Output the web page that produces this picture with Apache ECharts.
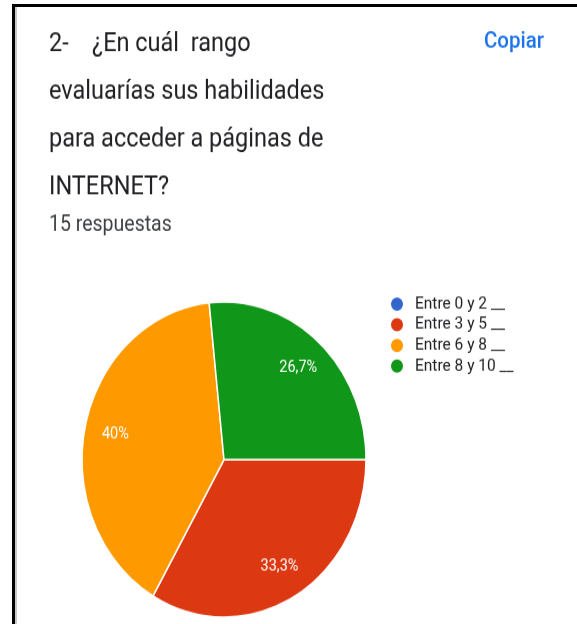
<!DOCTYPE html>
<html><head><meta charset="utf-8">
<script src="https://cdn.jsdelivr.net/npm/echarts@6/dist/echarts.min.js"></script>
<style>
html,body{margin:0;padding:0;background:#fff;overflow:hidden;width:577px;height:624px;}
#wrap{position:absolute;left:0;top:0;width:577px;height:562px;transform:scaleY(1.11);transform-origin:0 0;}
#chart{width:577px;height:562px;}
#frame{position:absolute;left:12px;top:4px;width:600px;height:700px;border-left:3px solid #000;border-top:3px solid #000;}
#shadow{position:absolute;left:15px;top:7px;width:2px;height:700px;background:#c8c8c8;}
</style></head><body>
<div id="wrap"><div id="chart"></div></div>
<div id="shadow"></div>
<div id="frame"></div>
<script>
const titleLines = ['2-    ¿En cuál  rango', 'evaluarías sus habilidades', 'para acceder a páginas de', 'INTERNET?'];
const subtitleText = '15 respuestas';
const copyText = 'Copiar';
const categories = ['Entre 0 y 2 __', 'Entre 3 y 5 __', 'Entre 6 y 8 __', 'Entre 8 y 10 __'];
const counts = [0, 5, 6, 4];
const colors = ['#3366cc', '#dc3912', '#ff9900', '#109618'];

const pieData = categories.map((name, i) => ({
  name: name,
  value: counts[i],
  itemStyle: { color: colors[i] }
}));
const labelData = categories.map((name, i) => ({
  name: name,
  value: counts[i],
  itemStyle: { color: 'rgba(0,0,0,0)' }
}));
const fmt = p => p.value === 0 ? '' : (Math.round(p.percent * 10) / 10).toString().replace('.', ',') + '%';

const chart = echarts.init(document.getElementById('chart'), null, { renderer: 'canvas' });
chart.setOption({
  animation: false,
  title: [
    { text: titleLines.join('\n'), left: 49, top: 19, padding: 0,
      textStyle: { fontFamily: 'Roboto', fontSize: 23.5, fontWeight: 'normal', color: '#202124', lineHeight: 42.8 } },
    { text: subtitleText, left: 49, top: 194, padding: 0,
      textStyle: { fontFamily: 'Roboto', fontSize: 19.5, fontWeight: 'normal', color: '#3c4043', lineHeight: 19 } },
    { text: copyText, right: 33, top: 28, padding: 0,
      textStyle: { fontFamily: 'Roboto', fontSize: 20.5, fontWeight: 500, color: '#1a73e8', lineHeight: 20 } }
  ],
  legend: {
    orient: 'vertical', left: 389, top: 266, padding: 0,
    icon: 'circle', itemWidth: 14, itemHeight: 14, itemGap: 2.6,
    selectedMode: false,
    data: categories,
    textStyle: { fontFamily: 'Roboto', fontSize: 15.5, color: '#202124', padding: [0, 0, 0, 6] }
  },
  series: [
    {
      type: 'pie', center: [224, 414], radius: 142, startAngle: 0, clockwise: true,
      data: pieData, silent: true,
      itemStyle: { borderColor: '#ffffff', borderWidth: 1.5 },
      label: { show: false }, labelLine: { show: false },
      emphasis: { disabled: true }
    },
    {
      type: 'pie', center: [224, 414], radius: 216, startAngle: 0, clockwise: true,
      data: labelData, silent: true, legendHoverLink: false,
      itemStyle: { borderWidth: 0 },
      label: { show: true, position: 'inner', formatter: fmt,
        fontFamily: 'Roboto', fontSize: 14.5, color: '#ffffff' },
      labelLine: { show: false },
      emphasis: { disabled: true }
    }
  ]
});
</script>
</body></html>
